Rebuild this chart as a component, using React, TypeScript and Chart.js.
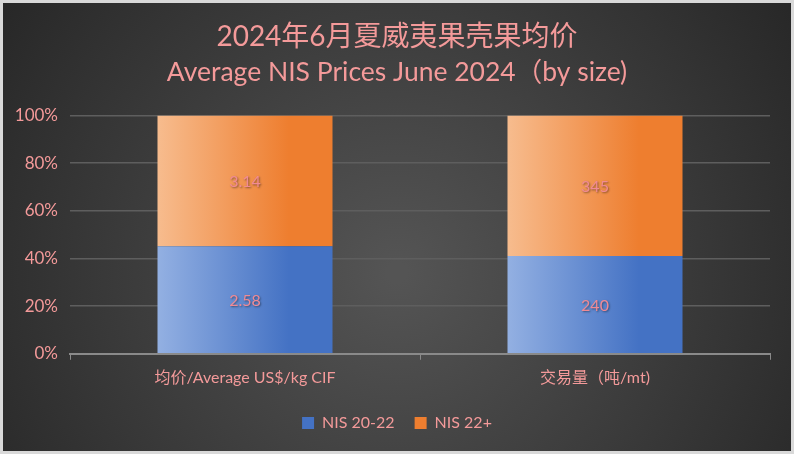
import React, { useEffect, useRef } from "react";
import { Chart, registerables } from "chart.js";

Chart.register(...registerables);

const categories = ["均价/Average US$/kg CIF", "交易量（吨/mt)"];
const seriesNames = ["NIS 20-22", "NIS 22+"];
const nis2022 = [2.58, 240];
const nis22plus = [3.14, 345];
const yTicks = [0, 20, 40, 60, 80, 100];
const titleLine1 = "2024年6月夏威夷果壳果均价";
const titleLine2 = "Average NIS Prices June 2024（by size)";

const PINK = "#F49A9A";
const FONT = "Lato, 'Noto Sans CJK SC', sans-serif";

const gradStops = [
  ["#93B0E2", "#4472C4"],
  ["#F7BC8E", "#EE7E2F"],
];

export default function App() {
  const ref = useRef<HTMLCanvasElement | null>(null);
  useEffect(() => {
    document.body.style.margin = "0";
    const canvas = ref.current!;
    const raw = [nis2022, nis22plus];
    const totals = categories.map((_, j) => raw.reduce((s, r) => s + r[j], 0));
    const pct = raw.map((r) => r.map((v, j) => (v / totals[j]) * 100));

    const makeBg = (si: number) => (ctx: any) => {
      const chart = ctx.chart;
      const sx = chart.scales && chart.scales.x;
      if (!chart.chartArea || !sx || ctx.dataIndex === undefined) return gradStops[si][1];
      const cx = sx.getPixelForValue(ctx.dataIndex);
      const w = (sx.width / categories.length) * 0.5;
      const g = chart.ctx.createLinearGradient(cx - w / 2, 0, cx + w / 2, 0);
      g.addColorStop(0, gradStops[si][0]);
      g.addColorStop(0.75, gradStops[si][1]);
      g.addColorStop(1, gradStops[si][1]);
      return g;
    };

    const bgPlugin = {
      id: "bgPlugin",
      beforeDraw(chart: any) {
        const { ctx, width, height } = chart;
        ctx.save();
        const g = ctx.createRadialGradient(width / 2, height * 0.6, 10, width / 2, height * 0.6, width * 0.62);
        g.addColorStop(0, "#545454");
        g.addColorStop(1, "#262626");
        ctx.fillStyle = g;
        ctx.fillRect(0, 0, width, height);
        ctx.strokeStyle = "#D9D9D9";
        ctx.lineWidth = 3;
        ctx.strokeRect(1.5, 1.5, width - 3, height - 3);
        ctx.restore();
      },
    };

    const labelPlugin = {
      id: "labelPlugin",
      afterDatasetsDraw(chart: any) {
        const ctx = chart.ctx;
        ctx.save();
        ctx.font = `16px ${FONT}`;
        ctx.textAlign = "center";
        ctx.textBaseline = "middle";
        ctx.shadowColor = "rgba(0,0,0,0.45)";
        ctx.shadowOffsetX = 1;
        ctx.shadowOffsetY = 1;
        ctx.shadowBlur = 2;
        ctx.fillStyle = "#F08A94";
        raw.forEach((r, i) => {
          const meta = chart.getDatasetMeta(i);
          meta.data.forEach((el: any, j: number) => {
            const p = el.getProps(["x", "y", "base"], true);
            ctx.fillText(String(r[j]), p.x, (p.y + p.base) / 2 + 1);
          });
        });
        ctx.restore();
      },
    };

    const chart = new Chart(canvas, {
      type: "bar",
      data: {
        labels: categories,
        datasets: seriesNames.map((name, i) => ({
          label: name,
          data: pct[i],
          backgroundColor: makeBg(i),
          borderWidth: 0,
          categoryPercentage: 0.5,
          barPercentage: 1,
        })),
      },
      options: {
        animation: false,
        responsive: false,
        layout: { padding: { left: 13, right: 13, top: 12, bottom: 13 } },
        plugins: {
          title: {
            display: true,
            text: titleLine1,
            color: PINK,
            font: { family: FONT, size: 28, weight: "normal" },
            padding: { top: 8, bottom: 3 },
          },
          subtitle: {
            display: true,
            text: titleLine2,
            color: PINK,
            font: { family: FONT, size: 26.5, weight: "normal" },
            padding: { top: 0, bottom: 27 },
          },
          legend: {
            position: "bottom",
            labels: {
              color: PINK,
              font: { family: FONT, size: 16 },
              boxWidth: 12,
              boxHeight: 12,
              padding: 20,
              generateLabels: () =>
                seriesNames.map((n, i) => ({
                  text: n,
                  fillStyle: gradStops[i][1],
                  strokeStyle: gradStops[i][1],
                  lineWidth: 0,
                  fontColor: PINK,
                  datasetIndex: i,
                })),
            },
          },
          tooltip: { enabled: false },
        },
        scales: {
          x: {
            stacked: true,
            grid: {
              offset: true,
              drawOnChartArea: false,
              drawTicks: true,
              tickLength: 6,
              color: "#8A8A8A",
            },
            border: { display: true, color: "#8A8A8A", width: 2 },
            ticks: { color: PINK, font: { family: FONT, size: 16 }, padding: 8 },
          },
          y: {
            stacked: true,
            min: 0,
            max: 100,
            afterBuildTicks: (axis: any) => {
              axis.ticks = yTicks.map((v) => ({ value: v }));
            },
            afterFit: (axis: any) => {
              axis.width = 57;
            },
            grid: { color: "#5E5E5E", lineWidth: 1.5, drawTicks: false },
            border: { display: false },
            ticks: {
              color: PINK,
              font: { family: FONT, size: 17 },
              padding: 12,
              callback: (v: any) => `${v}%`,
            },
          },
          yRight: {
            type: "linear",
            position: "right",
            display: true,
            afterFit: (axis: any) => {
              axis.width = 11;
            },
            grid: { display: false },
            border: { display: false },
            ticks: { display: false },
          },
        },
      },
      plugins: [bgPlugin, labelPlugin],
    });
    return () => chart.destroy();
  }, []);
  return (
    <div style={{ width: 794, height: 454 }}>
      <canvas ref={ref} width={794} height={454} style={{ display: "block" }} />
    </div>
  );
}
